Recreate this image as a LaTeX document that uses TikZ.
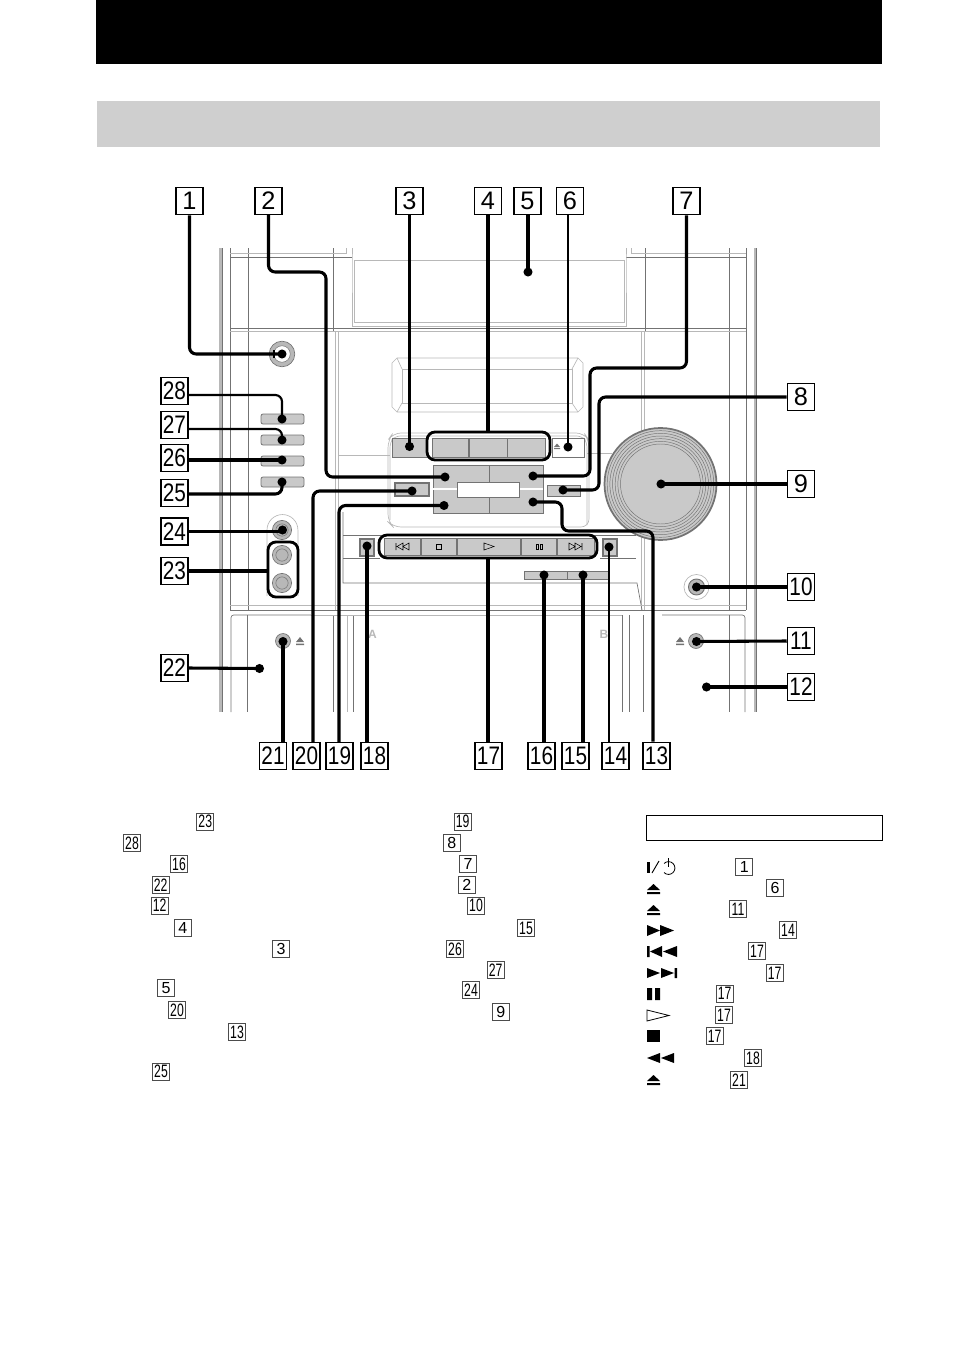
\documentclass[tikz,border=0pt]{standalone}
\usepackage{fontspec}
\setmainfont{Liberation Sans}
\usetikzlibrary{calc}
\definecolor{bandgray}{gray}{0.81}
\definecolor{btngray}{gray}{0.79}
\definecolor{thingray}{gray}{0.45}
\definecolor{palegray}{gray}{0.72}
\newcommand{\nn}[1]{\scalebox{.82}[1]{#1}}
\newcommand{\sn}[1]{\scalebox{.68}[1]{#1}}
\tikzset{
	key/.style={draw,fill=white,line width=1pt,minimum size=20.4pt,inner sep=0pt,font=\fontsize{19}{19}\selectfont},
	idx/.style={draw=black!70,fill=white,line width=.7pt,minimum size=12.6pt,inner sep=0pt,font=\fontsize{13.5}{13.5}\selectfont},
	idxs/.style={idx,font=\fontsize{12}{12}\selectfont},
	lead/.style={line width=2.3pt,rounded corners=5pt},
	leadthin/.style={line width=1.6pt,rounded corners=5pt},
	grp/.style={draw,line width=2.1pt,rounded corners=6pt},
	dot/.style={circle,fill=black,inner sep=0pt,minimum size=6.8pt},
	btn/.style={draw=thingray,fill=btngray,line width=.6pt},
	body/.style={draw=thingray,line width=.5pt},
	pale/.style={draw=palegray,line width=.5pt},
	tag/.style={text=palegray,font=\fontsize{9}{9}\selectfont\bfseries},
	sym/.style={fill=black},
}
\begin{document}
\begin{tikzpicture}[x=.75pt,y=-.75pt]
	\useasboundingbox (0,0) rectangle (954,1352);
	\fill (96,0) rectangle (882,64);
	\fill[bandgray] (97,101) rectangle (880,147);

	\draw[palegray,line width=1.6pt] (220.5,248)--(220.5,712);
	\draw[thingray,line width=.5pt] (222,248)--(222,712);
	\draw[palegray,line width=1.6pt] (755,248)--(755,712);
	\draw[thingray,line width=.5pt] (756.5,248)--(756.5,712);
	\draw[body] (230,248)--(230,610) (746,248)--(746,610);
	\draw[body] (248,248)--(248,610) (729,248)--(729,610);
	\draw[body] (333,248)--(333,331) (645,248)--(645,331);
	\draw[pale] (230,253)--(346,253)--(346,248) (746,253)--(631,253)--(631,248);
	\draw[body] (230,257)--(352,257) (626,257)--(746,257);
	\draw[body] (230,328)--(746,328);
	\draw[pale] (230,331)--(746,331);
	\draw[pale] (352,248)--(352,260)--(352,326)--(626,326)--(626,260)--(626,248);
	\draw[pale] (354,260)--(624,260)--(624,322)--(354,322)--cycle;
	\draw[pale] (335,331)--(335,610) (338,331)--(338,610) (641,331)--(641,610) (644,331)--(644,610);

	\draw[pale] (397,358)--(578,358)--(583,363)--(583,407)--(578,412)--(397,412)--(392,407)--(392,363)--cycle;
	\draw[pale] (402,369)--(572,369)--(572,403)--(402,403)--cycle;
	\draw[pale] (397,358)--(402,369) (578,358)--(572,369) (397,412)--(402,403) (578,412)--(572,403);

	\draw[pale,rounded corners=6pt] (388,522)--(388,440)--(393,433)--(584,433)--(589,440)--(589,527)--(393,527)--cycle;
	\draw[pale,rounded corners=4pt] (390,520)--(390,442)--(395,436)--(582,436)--(587,442)--(587,525);
	\draw[pale] (338,455)--(390,455) (587,453)--(612,453);
	\draw[body] (343,535)--(636,535) (343,558)--(380,558) (600,558)--(636,558);
	\draw[body] (343,512)--(343,583)--(637,583)--(642,610);
	\draw[pale] (230,605)--(746,605);
	\draw[body] (230,610)--(746,610);

	\draw[body,rounded corners=2pt] (231,712)--(231,615)--(311,615);
	\draw[body] (247,615)--(247,712) (333,615)--(333,712);
	\draw[pale] (347,615)--(347,712);
	\draw[body] (353,615)--(353,712);
	\draw[pale] (311,615)--(622,615);
	\draw[body] (622,615)--(622,712) (629,615)--(629,712) (643,615)--(643,712);
	\draw[body,rounded corners=2pt] (662,615)--(745,615)--(745,712);
	\draw[body] (729,615)--(729,712);
	\node[tag] (tagA) at (372.5,634) {A};
	\node[tag] (tagB) at (604,634) {B};

	\draw[btn] (392,438) rectangle (427,457);
	\draw[btn] (432,438) rectangle (468,457);
	\draw[btn] (469,438) rectangle (507,457);
	\draw[btn] (507,438) rectangle (545,457);
	\draw[body] (552,438) rectangle (584,457);
	\fill[thingray] (554,447)--(557,443.5)--(560,447)--cycle (554,448)rectangle(560,449);

	\draw[btn] (433,465) rectangle (543,513);
	\draw[thingray,line width=.5pt] (489,465)--(489,513);
	\draw[white,line width=1.4pt] (433,489)--(457,489) (519,489)--(543,489);
	\draw[thingray,fill=white,line width=.5pt] (457,482) rectangle (519,497);
	\draw[thingray,fill=btngray,line width=1pt] (395,483) rectangle (429,496);
	\draw[thingray,fill=btngray,line width=.7pt] (547,485) rectangle (580,496);

	\draw[pale] (660.5,484) circle [radius=45];
	\draw[thingray,line width=1.3pt,fill=btngray] (660.5,484) circle [radius=42pt];
	\foreach \rr in {30,32,34,36,38,40}
		\draw[thingray,line width=.35pt] (660.5,484) circle [radius=\rr pt];

	\foreach \yy in {414,435,456,477}
		\draw[btn,rounded corners=1.5pt] (261,\yy) rectangle (304,\yy+10);

	\draw[thingray,fill=palegray,line width=.5pt] (282,354) circle [radius=9.6pt];
	\draw[thingray,fill=white,line width=.4pt] (282,354) circle [radius=6.2pt];
	\draw[line width=1pt] (274,350)--(274,358);

	\draw[pale] (267,596)--(267,530) arc[start angle=180,end angle=360,radius=11.6pt,y radius=-11.6pt]--(298,596);
	\foreach \yy in {530,555,583}{
		\draw[thingray,fill=palegray,line width=.5pt] (282,\yy) circle [radius=7.2pt];
		\draw[thingray,line width=.4pt] (282,\yy) circle [radius=4.6pt];
	}
	\draw[thingray,fill=palegray,line width=.5pt] (283,641) circle [radius=5.6pt];
	\fill[thingray] (296,642)--(300,637)--(304,642)--cycle (296,643.5) rectangle (304,645);
	\draw[thingray,fill=palegray,line width=.5pt] (696,641) circle [radius=5.6pt];
	\fill[thingray] (676,642)--(680,637)--(684,642)--cycle (676,643.5) rectangle (684,645);
	\draw[pale] (696.5,587) circle [radius=9.4pt];
	\draw[thingray,fill=palegray,line width=.7pt] (696.5,587) circle [radius=6pt];

	\draw[btn] (384,538) rectangle (420,555);
	\draw[btn] (421,538) rectangle (456,555);
	\draw[btn] (457,538) rectangle (520,555);
	\draw[btn] (521,538) rectangle (556,555);
	\draw[btn] (557,538) rectangle (594,555);
	\draw[line width=.4pt] (396,543)--(396,550) (403,543)--(397,546.5)--(403,550)--cycle (409,543)--(403,546.5)--(409,550)--cycle;
	\draw[line width=.4pt] (436,544) rectangle (441,549);
	\draw[line width=.4pt] (484,543)--(494,546.5)--(484,550)--cycle;
	\draw[line width=.4pt] (536,544) rectangle (538,549) (540,544) rectangle (542,549);
	\draw[line width=.4pt] (569,543)--(575,546.5)--(569,550)--cycle (575,543)--(581,546.5)--(575,550)--cycle (582,543)--(582,550);
	\draw[btn,line width=1pt] (360,539) rectangle (374,556);
	\draw[btn,line width=1pt] (603,539) rectangle (617,556);
	\draw[btn] (524,571) rectangle (567,579);
	\draw[btn] (567,571) rectangle (608,579);

	\node[key] (k1) at (189.5,201) {1};
	\node[key] (k2) at (268.5,201) {2};
	\node[key] (k3) at (409.5,201) {3};
	\node[key] (k4) at (488,201) {4};
	\node[key] (k5) at (527.5,201) {5};
	\node[key] (k6) at (570,201) {6};
	\node[key] (k7) at (686.5,201) {7};
	\node[key] (k8) at (801,397) {8};
	\node[key] (k9) at (801,484) {9};
	\node[key] (k10) at (801,587) {\nn{10}};
	\node[key] (k11) at (801,641) {\nn{11}};
	\node[key] (k12) at (801,687) {\nn{12}};
	\node[key] (k13) at (656.5,756) {\nn{13}};
	\node[key] (k14) at (615.5,756) {\nn{14}};
	\node[key] (k15) at (575.5,756) {\nn{15}};
	\node[key] (k16) at (541.5,756) {\nn{16}};
	\node[key] (k17) at (488.5,756) {\nn{17}};
	\node[key] (k18) at (374.5,756) {\nn{18}};
	\node[key] (k19) at (339.5,756) {\nn{19}};
	\node[key] (k20) at (306.5,756) {\nn{20}};
	\node[key] (k21) at (273,756) {\nn{21}};
	\node[key] (k22) at (174.5,668) {\nn{22}};
	\node[key] (k23) at (174.5,571) {\nn{23}};
	\node[key] (k24) at (174.5,531.5) {\nn{24}};
	\node[key] (k25) at (174.5,493) {\nn{25}};
	\node[key] (k26) at (174.5,458) {\nn{26}};
	\node[key] (k27) at (174.5,425) {\nn{27}};
	\node[key] (k28) at (174.5,391) {\nn{28}};

	\node[dot] (d1) at (282,354) {};
	\node[dot] (d2) at (445,477) {};
	\node[dot] (d3) at (409.5,446.5) {};
	\node[dot] (d5) at (528,272) {};
	\node[dot] (d6) at (568,447) {};
	\node[dot] (d7) at (533,476) {};
	\node[dot] (d8) at (563,490) {};
	\node[dot] (d9) at (661,484) {};
	\node[dot] (d10) at (696.5,587) {};
	\node[dot] (d11) at (696.5,641.5) {};
	\node[dot] (d12) at (706.5,687) {};
	\node[dot] (d13) at (533,502) {};
	\node[dot] (d14) at (609,547) {};
	\node[dot] (d15) at (583,575) {};
	\node[dot] (d16) at (544,575) {};
	\node[dot] (d18) at (367,546) {};
	\node[dot] (d19) at (444,505.5) {};
	\node[dot] (d20) at (412,491) {};
	\node[dot] (d21) at (283,641.5) {};
	\node[dot] (d22) at (259.5,668.5) {};
	\node[dot] (d24) at (282.5,530) {};
	\node[dot] (d25) at (282,482) {};
	\node[dot] (d26) at (282,460) {};
	\node[dot] (d27) at (282,440) {};
	\node[dot] (d28) at (282,419) {};

	\node[grp,minimum width=92.2pt,minimum height=21pt,inner sep=0pt] (g4) at (488.5,446) {};
	\node[grp,minimum width=163.5pt,minimum height=17.2pt,inner sep=0pt] (g17) at (488,546.5) {};
	\node[grp,minimum width=22.5pt,minimum height=41.3pt,inner sep=0pt] (g23) at (283,569.5) {};

	\draw[lead] (k1.south) |- (d1.center);
	\draw[lead] (268.5,214) -- (268.5,272) -- (326,272) -- (326,477) -- (d2.center);
	\draw[lead] (k3.south) -- (d3.center);
	\draw[lead] (k4.south) -- (g4.north -| k4);
	\draw[lead] (k5.south -| d5) -- (d5.center);
	\draw[leadthin] (k6.south -| d6) -- (d6.center);
	\draw[lead] (k7.south) -- (686.5,368) -- (590,368) -- (590,476) -- (d7.center);
	\draw[lead] (k8.west) -- (599,397) -- (599,490) -- (d8.center);
	\draw[lead] (k9.west) -- (d9.center);
	\draw[lead] (k10.west) -- (d10.center);
	\draw[lead] (k11.west) -- (d11.center);
	\draw[lead] (k12.west) -- (d12.center);
	\draw[lead] (k13.north -| 653,0) -- (653,531) -- (562,531) -- (562,502) -- (d13.center);
	\draw[leadthin] (k14.north -| d14) -- (d14.center);
	\draw[lead] (k15.north -| d15) -- (d15.center);
	\draw[lead] (k16.north -| d16) -- (d16.center);
	\draw[lead] (k17.north -| g17) -- (g17.south);
	\draw[lead] (k18.north -| d18) -- (d18.center);
	\draw[lead] (339,742) -- (339,505.5) -- (d19.center);
	\draw[lead] (313,742) -- (313,491) -- (d20.center);
	\draw[lead] (k21.north -| d21) -- (d21.center);
	\draw[lead] (k22.east) -- (d22.center);
	\draw[lead] (k23.east) -- (k23.east -| g23.west);
	\draw[lead] (k24.east) -- (k24.east -| d24);
	\draw[lead] (188,494) -| (d25.center);
	\draw[lead] (188,460) -- (d26.center);
	\draw[leadthin] (188,429) -| (d27.center);
	\draw[leadthin] (188,395) -| (d28.center);

	\node[idx] (i23) at (205.3,821.7) {\sn{23}};
	\node[idx] (i28) at (132,843) {\sn{28}};
	\node[idx] (i16) at (179,864) {\sn{16}};
	\node[idx] (i22) at (160.7,885) {\sn{22}};
	\node[idx] (i12) at (159.7,905.7) {\sn{12}};
	\node[idxs] (i4) at (182.7,927.7) {4};
	\node[idxs] (i3) at (281,949) {3};
	\node[idxs] (i5) at (166,988) {5};
	\node[idx] (i20) at (177,1010) {\sn{20}};
	\node[idx] (i13) at (237,1032) {\sn{13}};
	\node[idx] (i25) at (161,1071.7) {\sn{25}};
	\node[idx] (i19) at (462.7,821.7) {\sn{19}};
	\node[idxs] (i8) at (451.7,843) {8};
	\node[idxs] (i7) at (468,864) {7};
	\node[idxs] (i2) at (466.7,885) {2};
	\node[idx] (i10) at (476,905.7) {\sn{10}};
	\node[idx] (i15) at (526,928) {\sn{15}};
	\node[idx] (i26) at (455,949) {\sn{26}};
	\node[idx] (i27) at (495.7,970) {\sn{27}};
	\node[idx] (i24) at (471,990) {\sn{24}};
	\node[idxs] (i9) at (500.7,1012) {9};

	\node[draw,line width=.8pt,minimum width=177pt,minimum height=19pt,inner sep=0pt] (legend) at (764.5,828) {};

	\node[idxs] (j1) at (744.3,866.7) {1};
	\node[idxs] (j6) at (775,888) {6};
	\node[idx] (j11) at (738,909) {\sn{11}};
	\node[idx] (j14) at (788,930) {\sn{14}};
	\node[idx] (j17a) at (757,951) {\sn{17}};
	\node[idx] (j17b) at (774.7,973.3) {\sn{17}};
	\node[idx] (j17c) at (724.7,993.7) {\sn{17}};
	\node[idx] (j17d) at (724,1015) {\sn{17}};
	\node[idx] (j17e) at (714.7,1036) {\sn{17}};
	\node[idx] (j18) at (753,1058) {\sn{18}};
	\node[idx] (j21) at (739,1080) {\sn{21}};

	\fill (647,862) rectangle (649.5,873);
	\draw[line width=.7pt] (652,873)--(659,861);
	\draw[line width=.6pt] (664,863.5) arc[start angle=-135,end angle=135,radius=4.8pt,y radius=-4.8pt];
	\draw[line width=.6pt] (668.5,858)--(668.5,867);
	\fill[sym] (647,890)--(653.5,884)--(660,890)--cycle (647,892) rectangle (660,894);
	\fill[sym] (647,911)--(653.5,905)--(660,911)--cycle (647,913) rectangle (660,915);
	\fill[sym] (647,925)--(660,930.5)--(647,936)--cycle (660,925)--(674,930.5)--(660,936)--cycle;
	\fill[sym] (647,946) rectangle (649.5,957) (662,946)--(662,957)--(650,951.5)--cycle (677,946)--(677,957)--(663,951.5)--cycle;
	\fill[sym] (647,968)--(660,973)--(647,978)--cycle (661,968)--(674,973)--(661,978)--cycle (674.5,968) rectangle (677,978);
	\fill[sym] (647,988) rectangle (652,1000) (655,988) rectangle (660,1000);
	\draw[line width=.6pt] (647,1010)--(669,1015.5)--(647,1021)--cycle;
	\fill[sym] (647,1030) rectangle (660,1042);
	\fill[sym] (660,1053)--(660,1063)--(647,1058)--cycle (674,1053)--(674,1063)--(661,1058)--cycle;
	\fill[sym] (647,1081)--(653.5,1075)--(660,1081)--cycle (647,1083) rectangle (660,1085);
\end{tikzpicture}
\end{document}
